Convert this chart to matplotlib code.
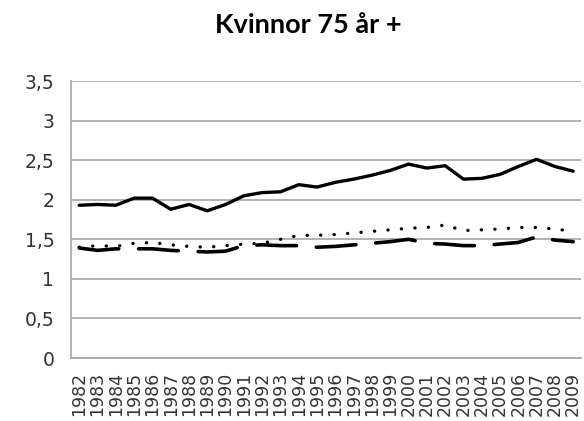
import numpy as np
import matplotlib
matplotlib.use('Agg')
import matplotlib.pyplot as plt

years = [str(y) for y in range(1982, 2010)]

solid = [1.93, 1.94, 1.93, 2.02, 2.02, 1.88, 1.94, 1.86, 1.94, 2.05,
         2.09, 2.10, 2.19, 2.16, 2.22, 2.26, 2.31, 2.37, 2.45, 2.40,
         2.43, 2.26, 2.27, 2.32, 2.42, 2.51, 2.42, 2.36]
dotted = [1.40, 1.42, 1.41, 1.45, 1.46, 1.43, 1.41, 1.40, 1.42, 1.44,
          1.45, 1.50, 1.55, 1.55, 1.56, 1.58, 1.60, 1.62, 1.64, 1.65,
          1.68, 1.61, 1.62, 1.63, 1.65, 1.65, 1.63, 1.60]
dashed = [1.39, 1.36, 1.38, 1.38, 1.38, 1.36, 1.35, 1.34, 1.35, 1.42,
          1.43, 1.42, 1.42, 1.40, 1.41, 1.43, 1.45, 1.47, 1.50, 1.45,
          1.44, 1.42, 1.42, 1.44, 1.46, 1.53, 1.49, 1.47]

yticks = [0, 0.5, 1, 1.5, 2, 2.5, 3, 3.5]
ytick_labels = ['0', '0,5', '1', '1,5', '2', '2,5', '3', '3,5']

fig = plt.figure(figsize=(5.84, 4.21), dpi=100)
ax = fig.add_axes([0.1216, 0.1496, 0.874, 0.658])

x = np.arange(len(years))
ax.plot(x, solid, color='black', lw=2.4, solid_capstyle='round',
        solid_joinstyle='round')
ax.plot(x, dotted, color='black', lw=2.4, linestyle=(0, (0.05, 4.0)),
        dash_capstyle='round')
ax.plot(x, dashed, color='black', lw=2.6, linestyle=(0, (11, 5.5)),
        dash_capstyle='round')

ax.set_xlim(-0.45, len(years) - 0.55)
ax.set_ylim(0, 3.5)
ax.set_yticks(yticks)
ax.set_yticklabels(ytick_labels, fontsize=13.5, color='#333333')
ax.set_xticks(x)
ax.set_xticklabels(years, rotation=90, fontsize=12.5, color='#333333')
ax.tick_params(length=0, pad=12)
ax.tick_params(axis='x', pad=10)
ax.yaxis.grid(True, color='#a6a6a6', lw=1.2)
ax.set_axisbelow(True)
for s in ['top', 'right']:
    ax.spines[s].set_visible(False)
for s in ['left', 'bottom']:
    ax.spines[s].set_color('#a6a6a6')
    ax.spines[s].set_linewidth(1.2)

fig.text(0.528, 1 - 33 / 421, 'Kvinnor 75 år +', ha='center', va='baseline',
         fontsize=19.5, fontweight='bold', family='Lato')

fig.savefig('out.png', dpi=100)
